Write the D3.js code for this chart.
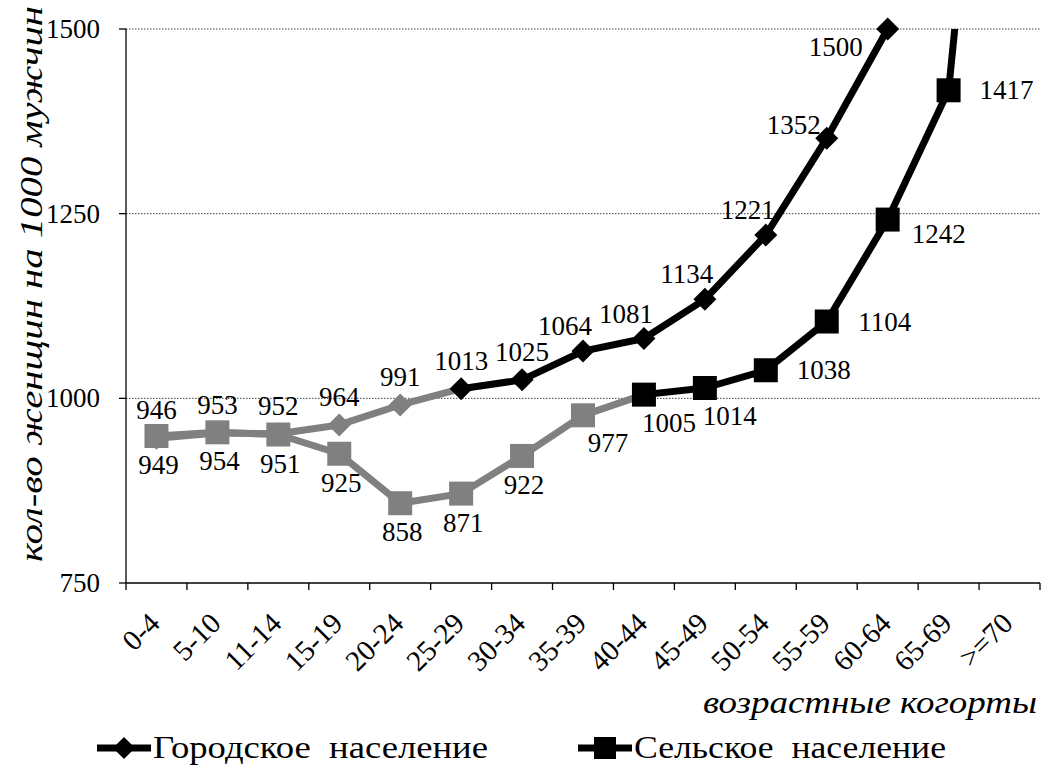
<!DOCTYPE html>
<html>
<head>
<meta charset="utf-8">
<script src="https://cdn.jsdelivr.net/npm/d3@7"></script>
</head>
<body style="margin:0">
<svg id="t" width="1044" height="765"></svg>
<script>
// age cohorts
const ageGroups = ["0-4", "5-10", "11-14", "15-19", "20-24", "25-29", "30-34", "35-39",
  "40-44", "45-49", "50-54", "55-59", "60-64", "65-69", ">=70"];

// women per 1000 men
const urbanValues = [946, 953, 952, 964, 991, 1013, 1025, 1064, 1081, 1134, 1221, 1352, 1500];
const ruralValues = [949, 954, 951, 925, 858, 871, 922, 977, 1005, 1014, 1038, 1104, 1242, 1417, 2240];

const yTicks = [750, 1000, 1250, 1500];
const seriesNames = ["Городское  население", "Сельское  население"];

// where the data labels sit (T=above, L=left, B=below, R=right ...)
const urbanLabelPlace = ["T", "T", "T", "T", "T", "T", "T", "TL", "TL", "TL", "TL", "L", "BL"];
const ruralLabelPlace = ["B", "B", "B", "B", "B", "B", "B", "BR", "BR", "BR", "R", "R", "RB", "R", "R"];

// first index drawn black
const urbanBlackFrom = 5;
const ruralBlackFrom = 8;

const GRAY = "#808080";
const labelOffset = {
  T: [0, -28], TL: [-18, -25], L: [-33, -13], BL: [-52, 18],
  B: [2, 29], BR: [25, 28], R: [58, 0], RB: [51, 14]
};

const margin = { left: 126, right: 1040, top: 29, bottom: 583 };
const svg = d3.select("#t");

let x = d3.scaleBand().domain(ageGroups).range([margin.left, margin.right]);
let y = d3.scaleLinear().domain([750, 1500]).range([margin.bottom, margin.top]);
let cx = i => x(ageGroups[i]) + x.bandwidth() / 2;

svg.append("defs").append("clipPath").attr("id", "plotclip")
  .append("rect")
  .attr("x", margin.left).attr("y", margin.top)
  .attr("width", margin.right - margin.left).attr("height", margin.bottom - margin.top);

// gridlines
svg.append("g")
  .selectAll("line")
  .data(yTicks.filter(t => t > 750))
  .join("line")
  .attr("x1", margin.left).attr("x2", margin.right)
  .attr("y1", d => y(d)).attr("y2", d => y(d))
  .attr("stroke", "#444").attr("stroke-width", 1).attr("stroke-dasharray", "1.5,1.5");

// y axis line and ticks
svg.append("line")
  .attr("x1", margin.left).attr("x2", margin.left)
  .attr("y1", margin.top).attr("y2", margin.bottom)
  .attr("stroke", "#000").attr("stroke-width", 1.3);
svg.append("g").selectAll("line")
  .data(yTicks)
  .join("line")
  .attr("x1", margin.left - 7).attr("x2", margin.left)
  .attr("y1", d => y(d)).attr("y2", d => y(d))
  .attr("stroke", "#000").attr("stroke-width", 1.3);

// x axis with ticks between categories
svg.append("line")
  .attr("x1", margin.left).attr("x2", margin.right)
  .attr("y1", margin.bottom).attr("y2", margin.bottom)
  .attr("stroke", "#000").attr("stroke-width", 1.3);
svg.append("g")
  .selectAll("line")
  .data(ageGroups.concat(["__end"]))
  .join("line")
  .attr("x1", (d, i) => margin.left + i * x.bandwidth())
  .attr("x2", (d, i) => margin.left + i * x.bandwidth())
  .attr("y1", margin.bottom).attr("y2", margin.bottom + 7)
  .attr("stroke", "#000").attr("stroke-width", 1.3);

// markers
const diamondPath = r => `M0,${-r}L${r},0L0,${r}L${-r},0Z`;
const squarePath = r => `M${-r},${-r}H${r}V${r}H${-r}Z`;

const line = d3.line().x(d => cx(d.i)).y(d => y(d.v));

function drawSeries(values, blackFrom, shape, r) {
  const pts = values.map((v, i) => ({ v, i }));
  const g = svg.append("g");
  const lines = g.append("g").attr("clip-path", "url(#plotclip)");
  lines.append("path")
    .attr("d", line(pts.slice(blackFrom)))
    .attr("fill", "none").attr("stroke", "#000").attr("stroke-width", 7)
    .attr("stroke-linejoin", "round");
  lines.append("path")
    .attr("d", line(pts.slice(0, blackFrom + 1)))
    .attr("fill", "none").attr("stroke", GRAY).attr("stroke-width", 7)
    .attr("stroke-linejoin", "round");

  const inside = pts.filter(d => d.v <= 1500);
  g.append("g").selectAll("path")
    .data(inside)
    .join("path")
    .attr("transform", d => `translate(${cx(d.i)},${y(d.v)})`)
    .attr("d", shape(r))
    .attr("fill", d => d.i < blackFrom ? GRAY : "#000");
  return inside;
}

const urbanPts = drawSeries(urbanValues, urbanBlackFrom, diamondPath, 11.5);
const ruralPts = drawSeries(ruralValues, ruralBlackFrom, squarePath, 12);

// legend marks
const legend = [
  { name: seriesNames[0], x: 97, shape: diamondPath, r: 11 },
  { name: seriesNames[1], x: 578, shape: squarePath, r: 11 }
];
const lg = svg.append("g").selectAll("g").data(legend).join("g")
  .attr("transform", d => `translate(${d.x},748)`);
lg.append("line").attr("x1", 0).attr("x2", 54).attr("stroke", "#000").attr("stroke-width", 7);
lg.append("path").attr("transform", "translate(27,0)").attr("d", d => d.shape(d.r)).attr("fill", "#000");

// all texts are plain top-level svg text elements in a serif face
const texts = [];
yTicks.forEach(t => texts.push({ s: String(t), x: 100, y: y(t) + 9, a: "end", size: 27 }));
ageGroups.forEach((g, i) => texts.push({ s: g, x: cx(i) + 5, y: margin.bottom + 42, a: "end", size: 29, rot: -45 }));
urbanPts.forEach(d => {
  const o = labelOffset[urbanLabelPlace[d.i]];
  texts.push({ s: String(d.v), x: cx(d.i) + o[0], y: y(d.v) + o[1] + 9, a: "middle", size: 27 });
});
ruralPts.forEach(d => {
  const o = labelOffset[ruralLabelPlace[d.i]];
  texts.push({ s: String(d.v), x: cx(d.i) + o[0], y: y(d.v) + o[1] + 9, a: "middle", size: 27 });
});
texts.push({ s: "кол-во женщин на 1000 мужчин", x: 42, y: 284, a: "middle", size: 32, rot: -90, it: true, len: 556 });
texts.push({ s: "возрастные когорты", x: 1037, y: 713, a: "end", size: 32, it: true, len: 334 });
legend.forEach((l, i) => texts.push({ s: l.name, x: l.x + 56, y: 758, a: "start", size: 32, len: i ? 312 : 335 }));

svg.selectAll("text").data(texts).join("text")
  .attr("x", d => d.rot ? 0 : d.x)
  .attr("y", d => d.rot ? 0 : d.y)
  .attr("transform", d => d.rot ? `translate(${d.x},${d.y}) rotate(${d.rot})` : null)
  .attr("text-anchor", d => d.a)
  .attr("textLength", d => d.len || null)
  .attr("lengthAdjust", d => d.len ? "spacingAndGlyphs" : null)
  .style("font-size", d => d.size + "px")
  .style("font-family", d => "Liberation Serif")
  .style("font-style", d => d.it ? "italic" : "normal")
  .style("white-space", "pre")
  .text(d => d.s);
</script>
</body>
</html>
